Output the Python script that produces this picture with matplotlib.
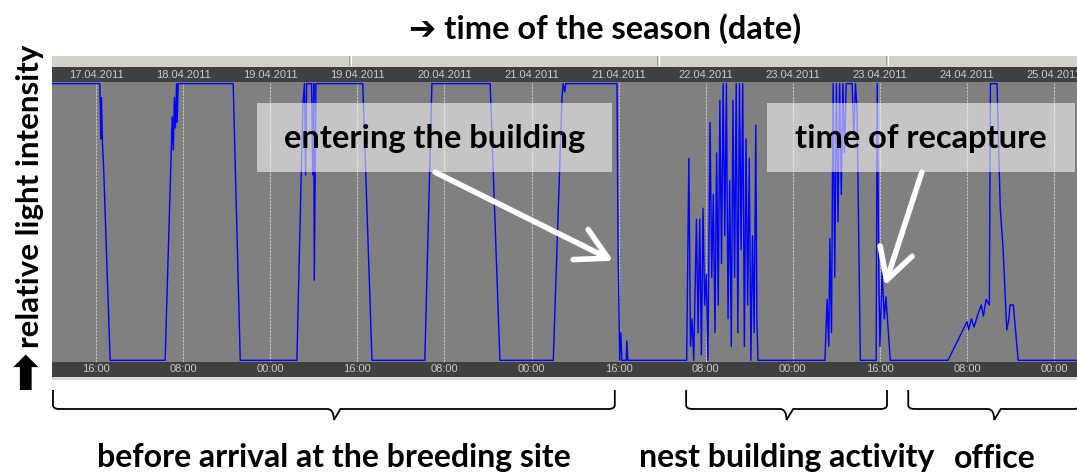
import matplotlib
matplotlib.use('Agg')
import matplotlib.pyplot as plt
from matplotlib.patches import Rectangle
from matplotlib.path import Path
from matplotlib.patches import PathPatch
from matplotlib.transforms import blended_transform_factory

# time axis: hours since 17.04.2011 00:00
tick_hours = [16, 32, 48, 64, 80, 96, 112, 128, 144, 160, 176, 192]
date_labels = ['17.04.2011', '18.04.2011', '19.04.2011', '19.04.2011', '20.04.2011', '21.04.2011',
               '21.04.2011', '22.04.2011', '23.04.2011', '23.04.2011', '24.04.2011', '25.04.2011']
time_labels = ['16:00', '08:00', '00:00', '16:00', '08:00', '00:00',
               '16:00', '08:00', '00:00', '16:00', '08:00', '00:00']

# relative light intensity
light_h = [7.9, 16.7, 16.9, 17.0, 17.2, 17.4, 18.6,
           28.7, 30.0, 30.2, 30.4, 30.6, 30.8, 30.9, 31.1, 41.2, 42.5,
           52.9, 54.0, 54.3, 54.5, 54.7, 55.6, 55.8, 56.0, 56.1, 56.4, 65.0, 66.7,
           76.4, 77.7, 88.4, 90.2,
           100.0, 101.6, 101.8, 102.1, 102.3, 111.7, 111.9, 112.2, 112.4, 112.6, 113.4, 113.5, 113.7,
           124.5, 124.9, 125.2, 125.5, 125.8, 126.3, 126.6, 126.9, 127.2, 127.5, 127.8, 128.1, 128.4,
           128.8, 129.1, 129.4, 129.7, 130.0, 130.3, 130.6, 130.9, 131.2, 131.5, 131.8, 132.1, 132.4,
           132.7, 133.0, 133.3, 133.6, 133.9, 134.2, 134.5, 134.8, 135.1, 135.4, 135.7, 136.0, 136.3,
           136.6, 136.9, 137.2, 137.4, 137.6,
           149.9, 150.3, 150.6, 150.8, 151.1, 151.4, 151.7, 152.0, 152.3, 152.6, 152.9, 153.2, 153.5,
           153.8, 154.9, 155.2, 155.5, 155.8, 156.4,
           159.3, 159.5, 159.8, 160.0, 160.4, 160.8, 161.1, 161.9,
           172.5, 174.5, 176.0, 176.3, 176.8, 177.3, 177.9, 178.6, 179.0, 179.5, 180.1, 180.3, 181.5,
           182.1, 182.6, 183.3, 183.7, 183.9, 184.5, 185.4, 196.5]
light_v = [1, 1, 0.8, 0.95, 0.78, 0.7, 0,
           0, 0.88, 0.76, 0.95, 0.84, 1, 0.86, 1, 1, 0,
           0, 0.92, 1, 0.67, 1, 1, 0.67, 1, 0.29, 1, 1, 0,
           0, 1, 1, 0,
           0, 0.95, 1, 0.97, 1, 1, 0.4, 0, 0.1, 0, 0, 0.07, 0,
           0, 0.73, 0.05, 0.15, 0, 0.51, 0.1, 0.51, 0.02, 0.55, 0.2, 0.31, 0,
           0.86, 0.3, 0.6, 0.1, 0.75, 0.2, 0.94, 0.35, 1, 0.45, 1, 0.15, 0.65,
           0.05, 0.94, 0.3, 1, 0.1, 1, 0.4, 1, 0.05, 0.8, 0.2, 0.73, 0,
           0.45, 0.1, 0.85, 0.15, 0,
           0, 0.22, 0.05, 0.44, 0.1, 1, 0.3, 1, 0.5, 1, 0.6, 1, 0.75,
           1, 1, 0.8, 1, 0.91, 0,
           0, 1, 0.3, 0.05, 0.32, 0.15, 0.23, 0,
           0, 0.08, 0.14, 0.11, 0.15, 0.12, 0.16, 0.2, 0.16, 0.22, 0.2, 1, 1,
           0.55, 0.41, 0.11, 0.15, 0.2, 0.2, 0, 0]

periods = [(8.1, 111.3), (124.4, 161.3), (165.2, 196.8)]
period_labels = ['before arrival at the breeding site', 'nest building activity', 'office']

# (text, arrow tip hour, tip value)
notes = [('entering the building', 111.0, 0.36), ('time of recapture', 160.9, 0.27)]

W, H = 1077, 475
fig = plt.figure(figsize=(W / 100, H / 100), dpi=100)
fnt = ['Lato', 'DejaVu Sans']


def fy(py):
    # pixel row from top -> figure fraction
    return (H - py) / H


ax = fig.add_axes([52 / W, fy(362), 1025 / W, 280 / H])
ax.set_facecolor('#808080')
ax.plot(light_h, light_v, color='#0000ff', lw=1.0, zorder=3)
ax.set_xlim(7.92, 196.2)
ax.set_ylim(-0.006, 1.006)
ax.set_xticks(tick_hours)
ax.set_yticks([])
ax.tick_params(length=0, labelbottom=False)
ax.grid(axis='x', color='#c4c4c4', ls=(0, (2, 1)), lw=0.8, zorder=1)
for s in ax.spines.values():
    s.set_visible(False)

# dark strips with dates / times
for py, labels in [(82, date_labels), (377, time_labels)]:
    sx = fig.add_axes([52 / W, fy(py), 1025 / W, 15 / H], sharex=ax)
    sx.set_facecolor('#404040')
    sx.set_yticks([])
    sx.tick_params(length=0, labelbottom=False)
    for s in sx.spines.values():
        s.set_visible(False)
    for h, lab in zip(tick_hours, labels):
        sx.text(h, 0.5, lab, transform=sx.get_xaxis_transform(), ha='center', va='center',
                color='#c8c8c8', fontsize=8, family='Liberation Sans')

# toolbar above the plot and line below
fig.patches.append(Rectangle((52 / W, fy(67)), 1025 / W, 12 / H, transform=fig.transFigure,
                             facecolor='#d4d0c8', edgecolor='none'))
fig.patches.append(Rectangle((52 / W, fy(56)), 1025 / W, 1 / H, transform=fig.transFigure,
                             facecolor='white', edgecolor='none'))
for px in [349, 657, 886]:
    fig.patches.append(Rectangle((px / W, fy(66)), 1 / W, 10 / H, transform=fig.transFigure,
                                 facecolor='#a0a0a0', edgecolor='none'))
    fig.patches.append(Rectangle(((px + 2) / W, fy(66)), 1 / W, 10 / H, transform=fig.transFigure,
                                 facecolor='white', edgecolor='none'))
fig.patches.append(Rectangle((52 / W, fy(380)), 1025 / W, 3 / H, transform=fig.transFigure,
                             facecolor='#d8d8d8', edgecolor='none'))

# annotation boxes and arrows
boxes = [(257, 612), (767, 1075)]
for (txt, th, tv), (bx0, bx1) in zip(notes, boxes):
    x0 = (bx0 - 52) / 1025
    x1 = (bx1 - 52) / 1025
    y0 = (362 - 172) / 280
    y1 = (362 - 103) / 280
    ax.add_patch(Rectangle((x0, y0), x1 - x0, y1 - y0, transform=ax.transAxes,
                           facecolor='white', alpha=0.55, edgecolor='none', zorder=4))
    ax.text((x0 + x1) / 2, (y0 + y1) / 2 - 0.005, txt, transform=ax.transAxes, ha='center',
            va='center', fontsize=23.5, fontweight='bold', family=fnt, color='black', zorder=5)
tails = [(78.3, 0.68), (167.7, 0.68)]
for (txt, th, tv), (hx, hv) in zip(notes, tails):
    ax.annotate('', xy=(th, tv), xytext=(hx, hv),
                arrowprops=dict(arrowstyle='->, head_length=1.0, head_width=0.55',
                                color='white', lw=4, mutation_scale=22, shrinkA=0, shrinkB=0),
                zorder=6)

# brackets under the periods
tr = blended_transform_factory(ax.transData, fig.transFigure)
r = 1.2
for (a, b), lab in zip(periods, period_labels):
    m = (a + b) / 2
    verts = [(a, fy(390)), (a, fy(405)), (a, fy(409)), (a + r, fy(409)),
             (m - r, fy(409)), (m, fy(409)), (m, fy(420)),
             (m, fy(420)), (m + r, fy(409)),
             (b - r, fy(409)), (b, fy(409)), (b, fy(405)), (b, fy(390))]
    codes = [Path.MOVETO, Path.LINETO, Path.CURVE3, Path.CURVE3,
             Path.LINETO, Path.CURVE3, Path.CURVE3,
             Path.MOVETO, Path.LINETO,
             Path.LINETO, Path.CURVE3, Path.CURVE3, Path.LINETO]
    fig.patches.append(PathPatch(Path(verts, codes), transform=tr, facecolor='none',
                                 edgecolor='black', lw=1.3, clip_on=False))
    fig.text(ax.transData.transform((m, 0))[0] / W, fy(458), lab, ha='center', va='center',
             fontsize=23, fontweight='bold', family=fnt)

# axis titles
fig.text(605 / W, fy(29), '➔ time of the season (date)', ha='center', va='center',
         fontsize=23.5, fontweight='bold', family=fnt)
fig.text(30 / W, fy(196), 'relative light intensity', rotation=90, ha='center', va='center',
         fontsize=22.5, fontweight='bold', family=fnt)
fig.text(26 / W, fy(377), '⬆', ha='center', va='center', fontsize=34, fontweight='bold',
         family=['DejaVu Sans'])

fig.savefig('out.png', dpi=100)
